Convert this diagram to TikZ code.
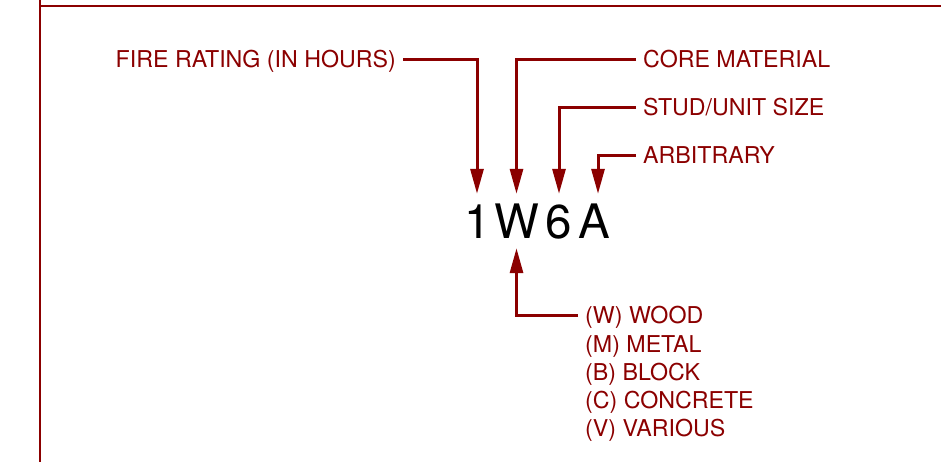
\documentclass[tikz,border=0pt]{standalone}
\usepackage{fontspec}
\setmainfont{TeX Gyre Heros}
\usetikzlibrary{arrows.meta}
\definecolor{tagred}{RGB}{139,0,0}

\tikzset{
  tagline/.style={tagred, line width=3pt, -{Triangle[length=25pt,width=13pt]}},
  framerule/.style={tagred, line width=1.3pt},
  taglabel/.style={text=tagred, font=\fontsize{23.2}{27}\selectfont,
                   text height=16.5pt, text depth=0pt, inner xsep=7pt, inner ysep=0pt},
  tagchar/.style={font=\fontsize{47.5}{50}\selectfont,
                  text height=34pt, text depth=0pt, inner xsep=0pt, inner ysep=10pt}
}

\begin{document}
\begin{tikzpicture}[x=1pt,y=-1pt]
  \useasboundingbox (0,0) rectangle (941,463);
  % Sheet border
  \draw[framerule] (40,0) -- (40,462);
  \draw[framerule] (40,6) -- (941,6);
  % The tag
  \node[tagchar] (c1) at (478,221) {1};
  \node[tagchar] (cW) at (516.5,221) {W};
  \node[tagchar] (c6) at (559,221) {6};
  \node[tagchar] (cA) at (594,221) {A};
  % Labels
  \node[taglabel, anchor=east] (fire) at (403,59) {FIRE RATING (IN HOURS)};
  \node[taglabel, anchor=west] (core) at (636,59) {CORE MATERIAL};
  \node[taglabel, anchor=west] (stud) at (636,107) {STUD/UNIT SIZE};
  \node[taglabel, anchor=west] (arb) at (636,155) {ARBITRARY};
  \foreach \txt [count=\i] in {(W) WOOD,(M) METAL,(B) BLOCK,(C) CONCRETE,(V) VARIOUS}
    \node[taglabel, anchor=west] (m\i) at (578,{315.5+28.25*(\i-1)}) {\txt};
  % Leaders
  \draw[tagline] (fire.east) -| ([xshift=-1pt]c1.north);
  \draw[tagline] (core.west) -| (cW.north);
  \draw[tagline] (stud.west) -| (c6.north);
  \draw[tagline] (arb.west) -| ([xshift=4pt]cA.north);
  \draw[tagline] (m1.west) -| (cW.south);
\end{tikzpicture}
\end{document}
